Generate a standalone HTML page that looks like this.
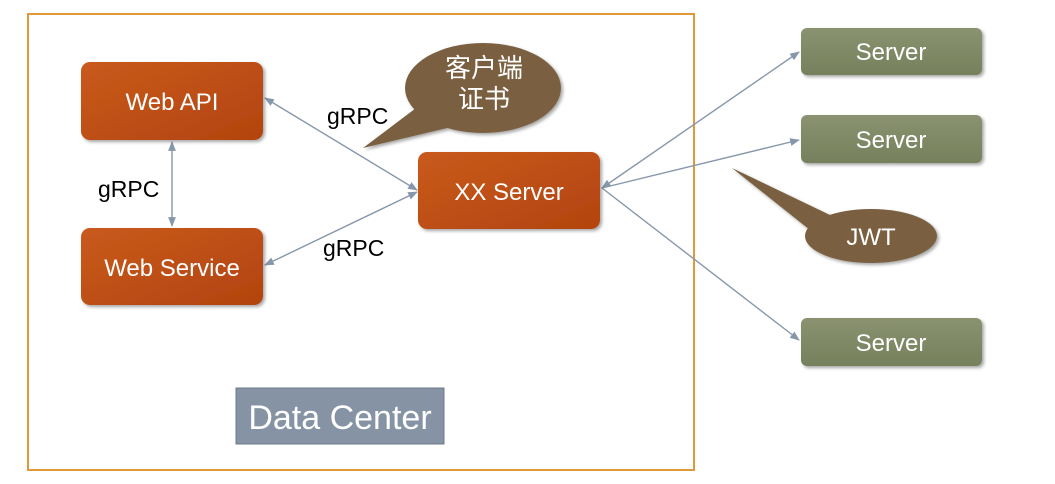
<!DOCTYPE html>
<html><head><style>body{margin:0;background:#fff}svg{display:block}</style></head><body>
<svg width="1055" height="484" viewBox="0 0 1055 484" font-family="Liberation Sans, Noto Sans CJK SC, sans-serif">
<defs>
<linearGradient id="o" x1="0" y1="0" x2="1" y2="1"><stop offset="0" stop-color="#c95a1c"/><stop offset="1" stop-color="#b2440f"/></linearGradient>
<linearGradient id="g" x1="0" y1="0" x2="0" y2="1"><stop offset="0" stop-color="#8a9270"/><stop offset="1" stop-color="#76805c"/></linearGradient>
<marker id="a" viewBox="0 0 10 10" refX="9" refY="5" markerWidth="7" markerHeight="7" orient="auto-start-reverse"><path d="M0,1 L10,5 L0,9 z" fill="#8797ab"/></marker>
<filter id="s"><feDropShadow dx="2" dy="2" stdDeviation="1.5" flood-opacity="0.35"/></filter>
</defs>
<rect x="28" y="14" width="666" height="456" fill="none" stroke="#e09a3a" stroke-width="2"/>
<g stroke="#8797ab" stroke-width="1.4" fill="none">
<line x1="172" y1="142" x2="172" y2="226" marker-start="url(#a)" marker-end="url(#a)"/>
<line x1="265" y1="98" x2="417" y2="190" marker-start="url(#a)" marker-end="url(#a)"/>
<line x1="265" y1="265" x2="417" y2="192" marker-start="url(#a)" marker-end="url(#a)"/>
<line x1="602" y1="188" x2="799" y2="52" marker-start="url(#a)" marker-end="url(#a)"/>
<line x1="602" y1="188" x2="799" y2="140" marker-end="url(#a)"/>
<line x1="602" y1="188" x2="799" y2="340" marker-end="url(#a)"/>
</g>
<g filter="url(#s)">
<rect x="81" y="62" width="182" height="78" rx="9" fill="url(#o)"/>
<rect x="81" y="228" width="182" height="77" rx="9" fill="url(#o)"/>
<rect x="418" y="152" width="182" height="77" rx="9" fill="url(#o)"/>
<rect x="801" y="28" width="181" height="47" rx="6" fill="url(#g)"/>
<rect x="801" y="115" width="181" height="48" rx="6" fill="url(#g)"/>
<rect x="801" y="318" width="181" height="48" rx="6" fill="url(#g)"/>
<path d="M363,148 L420,105 L460,125 Z" fill="#7a6140"/>
<ellipse cx="483" cy="88" rx="78" ry="45" fill="#7a6140"/>
<path d="M732,168 L830,215 L850,230 L820,238 Z" fill="#7a6140"/>
<ellipse cx="871" cy="236" rx="66" ry="27" fill="#7a6140"/>
</g>
<rect x="236" y="388" width="208" height="56" fill="#8593a4" stroke="#6c7a8a"/>
<g fill="#fff" font-size="24" text-anchor="middle">
<text x="172" y="110">Web API</text>
<text x="172" y="276">Web Service</text>
<text x="509" y="200">XX Server</text>
<text x="891" y="60">Server</text>
<text x="891" y="148">Server</text>
<text x="891" y="351">Server</text>
<text x="871" y="245">JWT</text>
<text x="484" y="77" font-size="26">客户端</text>
<text x="484" y="108" font-size="26">证书</text>
<text x="340" y="429" font-size="34">Data Center</text>
</g>
<g fill="#000" font-size="23">
<text x="327" y="124">gRPC</text>
<text x="98" y="197">gRPC</text>
<text x="323" y="256">gRPC</text>
</g>
</svg>
</body></html>
